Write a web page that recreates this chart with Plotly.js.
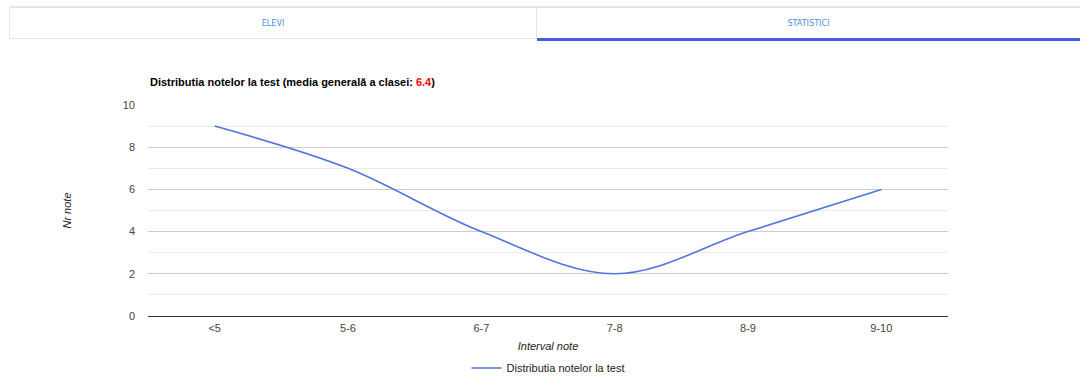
<!DOCTYPE html>
<html>
<head>
<meta charset="utf-8">
<script src="https://cdn.plot.ly/plotly-3.0.1.min.js"></script>
<style>
  html, body { margin:0; padding:0; width:1080px; height:376px; background:#fff; overflow:hidden; }
  #tabs { position:absolute; left:9px; top:6px; width:1071px; height:33px; border-top:2px solid #e6e6e6; z-index:5; }
  .tab { position:absolute; top:0; height:31px; line-height:31px; text-align:center; font-family:"Liberation Sans Narrow","DejaVu Sans Condensed","Liberation Sans",sans-serif; font-size:9px; color:#4a90e2; background:#fff; box-sizing:border-box; }
  #t1 { left:0; width:528px; border-left:1px solid #e6e6e6; border-right:1px solid #e6e6e6; border-bottom:1px solid #e6e6e6; }
  #t2 { left:528px; width:543px; border-bottom:3px solid #4a5ae8; height:33px; }
  #chart { position:absolute; left:0; top:0; width:1080px; height:376px; }
</style>
</head>
<body>
<div id="chart"></div>
<div id="tabs"><div class="tab" id="t1">ELEVI</div><div class="tab" id="t2">STATISTICI</div></div>
<script>
const categories = ["<5", "5-6", "6-7", "7-8", "8-9", "9-10"];
const counts = [9, 7, 4, 2, 4, 6];
const seriesName = "Distributia notelor la test";
const classAverage = "6.4";
const yTicks = [0, 2, 4, 6, 8, 10];

const trace = {
  x: categories,
  y: counts,
  type: "scatter",
  mode: "lines",
  name: seriesName,
  line: { color: "#4f76dc", width: 1.6, shape: "spline", smoothing: 1 },
  hoverinfo: "x+y"
};

const layout = {
  width: 1080, height: 376,
  margin: { l: 148, r: 132, t: 105, b: 60, autoexpand: false },
  paper_bgcolor: "rgba(0,0,0,0)",
  plot_bgcolor: "rgba(0,0,0,0)",
  font: { family: "Liberation Sans, Arial, sans-serif", size: 11, color: "#444" },
  showlegend: true,
  legend: { orientation: "h", xref: "paper", x: 0.5, xanchor: "center",
            yref: "container", y: 1 - 368/376, yanchor: "middle",
            font: { size: 11, color: "#222" } },
  xaxis: {
    type: "category", range: [-0.5, 5.5],
    showgrid: false, zeroline: false, showline: false, ticks: "",
    ticklabelstandoff: 4,
    tickfont: { size: 11, color: "#444" },
    title: { text: "Interval note", font: { size: 11, color: "#222", style: "italic" }, standoff: 9 }
  },
  yaxis: {
    range: [0, 10], tickvals: yTicks, ticktext: yTicks.map(String),
    showgrid: true, gridcolor: "#cccccc", gridwidth: 1,
    minor: { dtick: 1, showgrid: true, gridcolor: "#ebebeb", gridwidth: 1 },
    zeroline: true, zerolinecolor: "#333333", zerolinewidth: 1,
    showline: false, ticks: "", ticklabelstandoff: 12,
    tickfont: { size: 11, color: "#444" },
    title: { text: "Nr note", font: { size: 11, color: "#222", style: "italic" }, standoff: 48 }
  },
  annotations: [{
    xref: "paper", yref: "paper", x: 0, y: 1.11, xanchor: "left", yanchor: "middle",
    text: "<b>Distributia notelor la test (media generală a clasei: <span style='color:#ff0000'>" + classAverage + "</span>)</b>",
    showarrow: false, font: { size: 11, color: "#000" }
  }]
};

Plotly.newPlot("chart", [trace], layout, { displayModeBar: false, staticPlot: true });
</script>
</body>
</html>
